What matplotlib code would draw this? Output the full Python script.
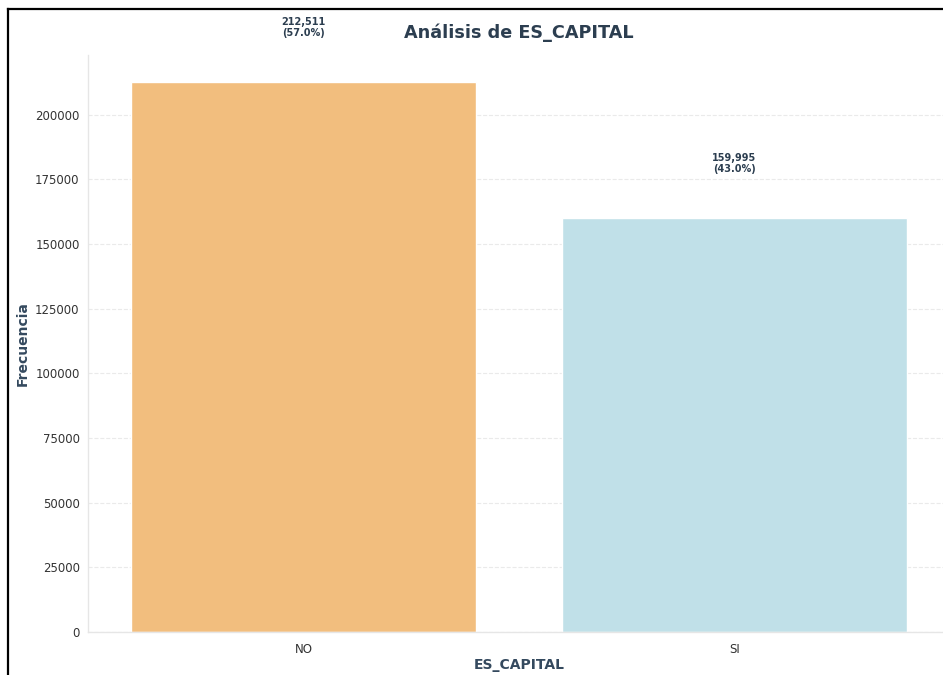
import matplotlib.pyplot as plt
from matplotlib.lines import Line2D

categories = ['NO', 'SI']
counts = [212511, 159995]
colors = ['#F2BE7E', '#C0E0E8']

total = sum(counts)

fig = plt.figure(figsize=(9.43, 6.75), dpi=100)
ax = fig.add_axes([88 / 943, 43 / 675, 862 / 943, 577 / 675])

x = range(len(categories))
ax.bar(x, counts, width=0.8, color=colors, edgecolor='white', linewidth=1)
ax.set_xlim(-0.5, 1.5)
ax.set_ylim(0, max(counts) * 1.05)
ax.set_xticks(list(x))
ax.set_xticklabels(categories)

for i, c in enumerate(counts):
    ax.text(i, c + max(counts) * 0.1, f'{c:,}\n({c / total * 100:.1f}%)',
            ha='center', va='center', fontsize=7, fontweight='bold',
            color='#2C3E50', linespacing=1.1)

ax.set_title('Análisis de ES_CAPITAL', fontsize=12.7, fontweight='bold',
             color='#2C3E50', pad=12.5)
ax.set_xlabel('ES_CAPITAL', fontsize=10, fontweight='bold', color='#34495E', labelpad=1)
ax.set_ylabel('Frecuencia', fontsize=10, fontweight='bold', color='#34495E', labelpad=4)

ax.grid(axis='y', linestyle='--', alpha=0.4, color='#cccccc')
ax.set_axisbelow(True)
ax.tick_params(length=0, labelsize=8.5, colors='#333333')
ax.tick_params(axis='x', pad=8)
ax.tick_params(axis='y', pad=6)
for s in ['top', 'right']:
    ax.spines[s].set_visible(False)
for s in ['left', 'bottom']:
    ax.spines[s].set_color('#e6e6e6')
    ax.spines[s].set_linewidth(1)

# frame of the surrounding panel
fig.add_artist(Line2D([8 / 943, 8 / 943], [0, 1 - 9 / 675], color='black', linewidth=1.6,
                      transform=fig.transFigure))
fig.add_artist(Line2D([8 / 943, 1], [1 - 9 / 675, 1 - 9 / 675], color='black', linewidth=1.6,
                      transform=fig.transFigure))

fig.savefig('out.png', dpi=100, facecolor='white')
